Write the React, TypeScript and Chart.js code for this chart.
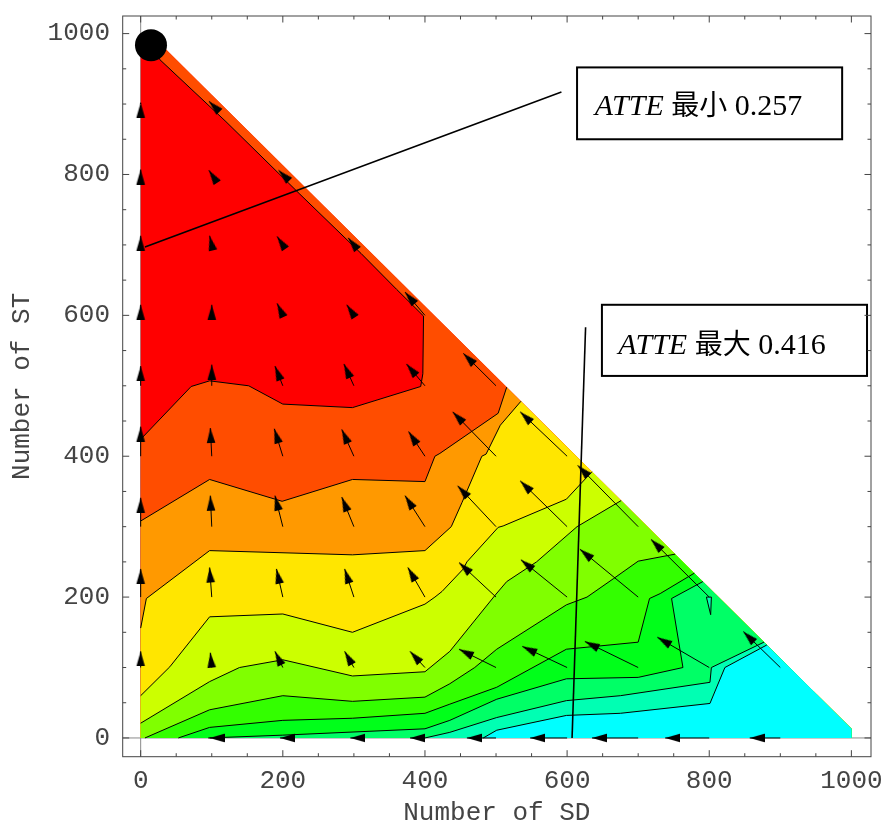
import React, { useEffect, useRef } from 'react';
import { Chart, registerables } from 'chart.js';

Chart.register(...registerables);

// ---- axes ----
const xTickValues = [0, 200, 400, 600, 800, 1000];
const yTickValues = [0, 200, 400, 600, 800, 1000];
const xRange = [-25.3, 1027.6];
const yRange = [-26.6, 1025];
const xTitle = 'Number of SD';
const yTitle = 'Number of ST';

// ---- contour levels (low ATTE -> high ATTE) ----
const bandColors = ['#FF0000', '#FF4D00', '#FF9900', '#FFE600', '#CCFF00', '#80FF00', '#33FF00', '#00FF1A', '#00FF66', '#00FFB3', '#00FFFF'];

// feasible region (SD + ST <= ~1013)
const region = [[0, 0], [1000, 0], [1000, 13], [13, 1000], [0, 1000]];

// contour lines, in data units
const contour1 = [[0, 424], [71, 499], [97, 507], [152, 500], [200, 474], [298, 469], [394, 499], [397, 517], [398, 599], [360, 637], [310, 688], [224, 772], [120, 875], [27, 963], [4, 1000]];
const contour2 = [[0, 308], [97, 367], [199, 336], [298, 367], [400, 364], [414, 400], [421, 404], [503, 461], [515, 498]];
const contour3 = [[0, 156], [8, 198], [97, 266], [298, 260], [400, 266], [437, 300], [452, 334], [480, 400], [486, 403], [506, 444], [535, 478]];
const contour4 = [[0, 60], [41, 101], [97, 172], [200, 176], [298, 150], [400, 190], [414, 200], [424, 208], [454, 240], [459, 250], [503, 299], [510, 301], [599, 339], [635, 378]];
const contour5 = [[0, 21], [97, 80], [139, 100], [200, 111], [298, 88], [400, 94], [435, 123], [499, 203], [515, 222], [557, 250], [614, 300], [676, 337]];
const contour6 = [[6, 0], [97, 40], [200, 60], [298, 52], [400, 58], [435, 77], [470, 100], [501, 126], [599, 189], [628, 200], [665, 226], [700, 251], [752, 261]];
const contour7 = [[53, 0], [97, 15], [200, 25], [298, 28], [400, 35], [435, 48], [501, 72], [599, 126], [700, 136], [716, 198], [731, 205], [779, 234]];
const contour8 = [[95, 0], [200, 4], [400, 13], [435, 25], [501, 55], [599, 84], [700, 86], [763, 100], [747, 198], [791, 222]];
const contour9 = [[400, 0], [435, 8], [501, 29], [599, 53], [675, 60], [801, 79], [803, 100], [877, 136]];
const contour10 = [[482, 0], [501, 11], [599, 32], [675, 35], [801, 49], [822, 100], [881, 132]];
const contourIsland = [[796, 200], [802, 175], [803, 200]];
const contours = [contour1, contour2, contour3, contour4, contour5, contour6, contour7, contour8, contour9, contour10];

// ---- vector field: tail point and vector ----
const arrowX = [100, 200, 300, 400, 500, 600, 700, 800, 900,
  0, 100, 200, 300, 400, 500, 600, 700, 800, 900,
  0, 100, 200, 300, 400, 500, 600, 700, 800,
  0, 100, 200, 300, 400, 500, 600, 700,
  0, 100, 200, 300, 400, 500, 600,
  0, 100, 200, 300, 400, 500,
  0, 100, 200, 300, 400,
  0, 100, 200, 300,
  0, 100, 200,
  0, 100];
const arrowY = [0, 0, 0, 0, 0, 0, 0, 0, 0,
  100, 100, 100, 100, 100, 100, 100, 100, 100, 100,
  200, 200, 200, 200, 200, 200, 200, 200, 200,
  300, 300, 300, 300, 300, 300, 300, 300,
  400, 400, 400, 400, 400, 400, 400,
  500, 500, 500, 500, 500, 500,
  600, 600, 600, 600, 600,
  700, 700, 700, 700,
  800, 800, 800,
  900, 900];
const arrowDX = [-3, -4, -5, -21, -41, -52, -65, -62, -43,
  0, -2, -11, -13, -21, -52, -63, -75, -73, -52,
  0, -3, -9, -13, -24, -52, -65, -82, -82,
  0, -2, -11, -17, -28, -54, -66, -85,
  0, -2, -12, -17, -23, -61, -66,
  0, 0, -11, -14, -26, -46,
  0, 0, -8, -10, -28,
  0, -3, -8, -8,
  0, -4, -6,
  0, -4];
const arrowDY = [0, 0, 0, 0, 0, 0, 0, 0, 0,
  23, 21, 23, 23, 23, 26, 30, 37, 43, 51,
  40, 42, 40, 40, 42, 49, 53, 68, 82,
  41, 44, 44, 42, 44, 58, 65, 87,
  42, 40, 39, 38, 35, 63, 63,
  28, 30, 28, 31, 31, 46,
  15, 15, 17, 15, 33,
  13, 13, 12, 10,
  7, 6, 6,
  2, 4];

// ---- annotations ----
const optimumPoint = [14.5, 983.6];
const noteVariable = 'ATTE';
const noteWords = ['最小', '最大'];
const noteValues = ['0.257', '0.416'];
const noteLines = [[[6, 697], [592, 917]], [[626, 583], [607, 0]]];
const noteBoxes = [[614, 952, 987, 850], [649, 615, 1022, 514]];
const noteTextAt = [[639, 884.5], [672, 545.7]];

const toXY = (pts: number[][]) => pts.map(([x, y]) => ({ x, y }));

function belowPolygon(c: number[][]) {
  const pts = c.slice();
  const start = c[0];
  const end = c[c.length - 1];
  if (end[1] >= region[3][1]) pts.push(region[3]);
  pts.push(region[2], region[1]);
  if (start[0] <= 0) pts.push(region[0]);
  return pts;
}

function makeHead(len: number, half: number) {
  const cv = document.createElement('canvas');
  cv.width = 12;
  cv.height = len * 2;
  const g = cv.getContext('2d')!;
  g.fillStyle = '#000';
  g.beginPath();
  g.moveTo(6, len);
  g.lineTo(6 - half, 2 * len);
  g.lineTo(6 + half, 2 * len);
  g.closePath();
  g.fill();
  return cv;
}

const monoFont = { family: '"Liberation Mono", "DejaVu Sans Mono", monospace', size: 26, lineHeight: 1 };
const textColor = '#444';

const overlayPlugin = {
  id: 'contourOverlay',
  beforeDatasetsDraw(chart: any) {
    const { ctx, chartArea: a, scales } = chart;
    const sx = scales.x, sy = scales.y;
    ctx.save();
    ctx.beginPath();
    ctx.rect(a.left, a.top, a.right - a.left, a.bottom - a.top);
    ctx.clip();
    // axes lines behind graphics
    ctx.strokeStyle = '#8a8a8a';
    ctx.lineWidth = 1;
    const x0 = sx.getPixelForValue(0), y0 = sy.getPixelForValue(0);
    ctx.beginPath();
    ctx.moveTo(x0, a.top); ctx.lineTo(x0, a.bottom);
    ctx.moveTo(a.left, y0); ctx.lineTo(a.right, y0);
    ctx.stroke();
    // filled bands (painter's order)
    chart.data.datasets.forEach((ds: any, i: number) => {
      if (!ds.bandFill) return;
      const meta = chart.getDatasetMeta(i);
      ctx.beginPath();
      meta.data.forEach((p: any, j: number) => (j ? ctx.lineTo(p.x, p.y) : ctx.moveTo(p.x, p.y)));
      ctx.closePath();
      ctx.fillStyle = ds.bandColor;
      ctx.fill();
    });
    ctx.restore();
  },
  afterDatasetsDraw(chart: any) {
    const { ctx, chartArea: a, scales } = chart;
    const sx = scales.x, sy = scales.y;
    ctx.save();
    // note boxes
    noteBoxes.forEach((b, i) => {
      const l = sx.getPixelForValue(b[0]), t = sy.getPixelForValue(b[1]);
      const r = sx.getPixelForValue(b[2]), bt = sy.getPixelForValue(b[3]);
      ctx.fillStyle = '#fff';
      ctx.fillRect(l, t, r - l, bt - t);
      ctx.strokeStyle = '#000';
      ctx.lineWidth = 2;
      ctx.strokeRect(l, t, r - l, bt - t);
      let tx = sx.getPixelForValue(noteTextAt[i][0]);
      const ty = sy.getPixelForValue(noteTextAt[i][1]);
      ctx.fillStyle = '#000';
      ctx.textAlign = 'left';
      ctx.textBaseline = 'alphabetic';
      ctx.font = 'italic 30px "Liberation Serif", serif';
      ctx.fillText(noteVariable, tx, ty);
      tx += ctx.measureText(noteVariable).width;
      ctx.font = '30px "Liberation Serif", serif';
      ctx.fillText(' ', tx, ty);
      tx += ctx.measureText(' ').width;
      ctx.font = '28px "Noto Sans CJK SC", sans-serif';
      ctx.fillText(noteWords[i], tx, ty);
      tx += ctx.measureText(noteWords[i]).width;
      ctx.font = '30px "Liberation Serif", serif';
      ctx.fillText(' ' + noteValues[i], tx, ty);
    });
    // frame
    ctx.strokeStyle = '#444';
    ctx.lineWidth = 1;
    ctx.strokeRect(a.left, a.top, a.right - a.left, a.bottom - a.top);
    ctx.beginPath();
    for (let v = 0; v <= 1000; v += 50) {
      const major = v % 200 === 0;
      const len = major ? 6.5 : 3.5;
      const px = sx.getPixelForValue(v);
      ctx.moveTo(px, a.bottom); ctx.lineTo(px, a.bottom - len);
      ctx.moveTo(px, a.top); ctx.lineTo(px, a.top + len);
      const py = sy.getPixelForValue(v);
      ctx.moveTo(a.left, py); ctx.lineTo(a.left + len, py);
      ctx.moveTo(a.right, py); ctx.lineTo(a.right - len, py);
    }
    ctx.stroke();
    ctx.restore();
  },
};

export default function App() {
  const ref = useRef<HTMLCanvasElement>(null);
  useEffect(() => {
    const head = makeHead(15, 4.3);
    const datasets: any[] = [];
    // bands
    const bands: { pts: number[][]; color: string }[] = [{ pts: region, color: bandColors[0] }];
    contours.forEach((c, i) => bands.push({ pts: belowPolygon(c), color: bandColors[i + 1] }));
    bands.push({ pts: contourIsland, color: bandColors[9] });
    bands.forEach((b) => datasets.push({
      data: toXY(b.pts), bandFill: true, bandColor: b.color, showLine: false,
      pointRadius: 0, pointHoverRadius: 0, borderWidth: 0, order: 100,
    }));
    // contour lines
    [...contours, [...contourIsland, contourIsland[0]]].forEach((c) => datasets.push({
      data: toXY(c), showLine: true, borderColor: '#000', borderWidth: 1, pointRadius: 0,
      fill: false, tension: 0, order: 60,
    }));
    // arrow shafts
    const shafts: any[] = [];
    arrowX.forEach((x, i) => {
      shafts.push({ x, y: arrowY[i] });
      shafts.push({ x: x + arrowDX[i], y: arrowY[i] + arrowDY[i] });
      shafts.push({ x: null, y: null });
    });
    datasets.push({
      data: shafts, showLine: true, spanGaps: false, borderColor: '#000', borderWidth: 1,
      pointRadius: 0, fill: false, order: 50,
    });
    // arrow heads
    datasets.push({
      data: arrowX.map((x, i) => ({ x: x + arrowDX[i], y: arrowY[i] + arrowDY[i] })),
      showLine: false, pointStyle: head, pointRadius: 1, pointHoverRadius: 1,
      rotation: (c: any) => {
        const i = c.dataIndex;
        if (i === undefined) return 0;
        return (Math.atan2(arrowDX[i], arrowDY[i]) * 180) / Math.PI;
      },
      order: 40,
    });
    // note leader lines
    noteLines.forEach((l) => datasets.push({
      data: toXY(l), showLine: true, borderColor: '#000', borderWidth: 1.6, pointRadius: 0,
      fill: false, order: 30,
    }));
    // optimum dot
    datasets.push({
      data: [{ x: optimumPoint[0], y: optimumPoint[1] }], showLine: false, pointRadius: 16,
      pointHoverRadius: 16, backgroundColor: '#000', borderWidth: 0, order: 20,
    });

    const chart = new Chart(ref.current!, {
      type: 'scatter',
      data: { datasets },
      options: {
        animation: false,
        responsive: false,
        devicePixelRatio: 1,
        events: [],
        layout: { padding: { top: 8.3, right: 16, left: 0, bottom: 0 } },
        plugins: { legend: { display: false }, tooltip: { enabled: false } },
        scales: {
          x: {
            type: 'linear', min: xRange[0], max: xRange[1],
            afterBuildTicks: (s: any) => { s.ticks = xTickValues.map((v) => ({ value: v })); },
            afterFit: (s: any) => { s.height = 69.3; s.paddingLeft = 0; s.paddingRight = 0; },
            ticks: { font: monoFont, color: textColor, padding: 11, maxRotation: 0, autoSkip: false, callback: (v: any) => String(v) },
            grid: { display: false, drawTicks: false },
            border: { display: false },
            title: { display: true, text: xTitle, font: monoFont, color: textColor, padding: { top: 0, bottom: 0 } },
          },
          y: {
            type: 'linear', min: yRange[0], max: yRange[1],
            afterBuildTicks: (s: any) => { s.ticks = yTickValues.map((v) => ({ value: v })); },
            afterFit: (s: any) => { s.width = 122.7; s.paddingTop = 0; s.paddingBottom = 0; },
            ticks: { font: monoFont, color: textColor, padding: 12.7, autoSkip: false, callback: (v: any) => String(v) },
            grid: { display: false, drawTicks: false },
            border: { display: false },
            title: { display: true, text: yTitle, font: monoFont, color: textColor, padding: { top: 9, bottom: 0 } },
          },
        },
      } as any,
      plugins: [overlayPlugin],
    });
    return () => chart.destroy();
  }, []);
  return (
    <div style={{ position: 'fixed', left: 0, top: 0, width: 887, height: 826, background: '#fff' }}>
      <canvas ref={ref} width={887} height={826} style={{ display: 'block', width: 887, height: 826 }} />
    </div>
  );
}
